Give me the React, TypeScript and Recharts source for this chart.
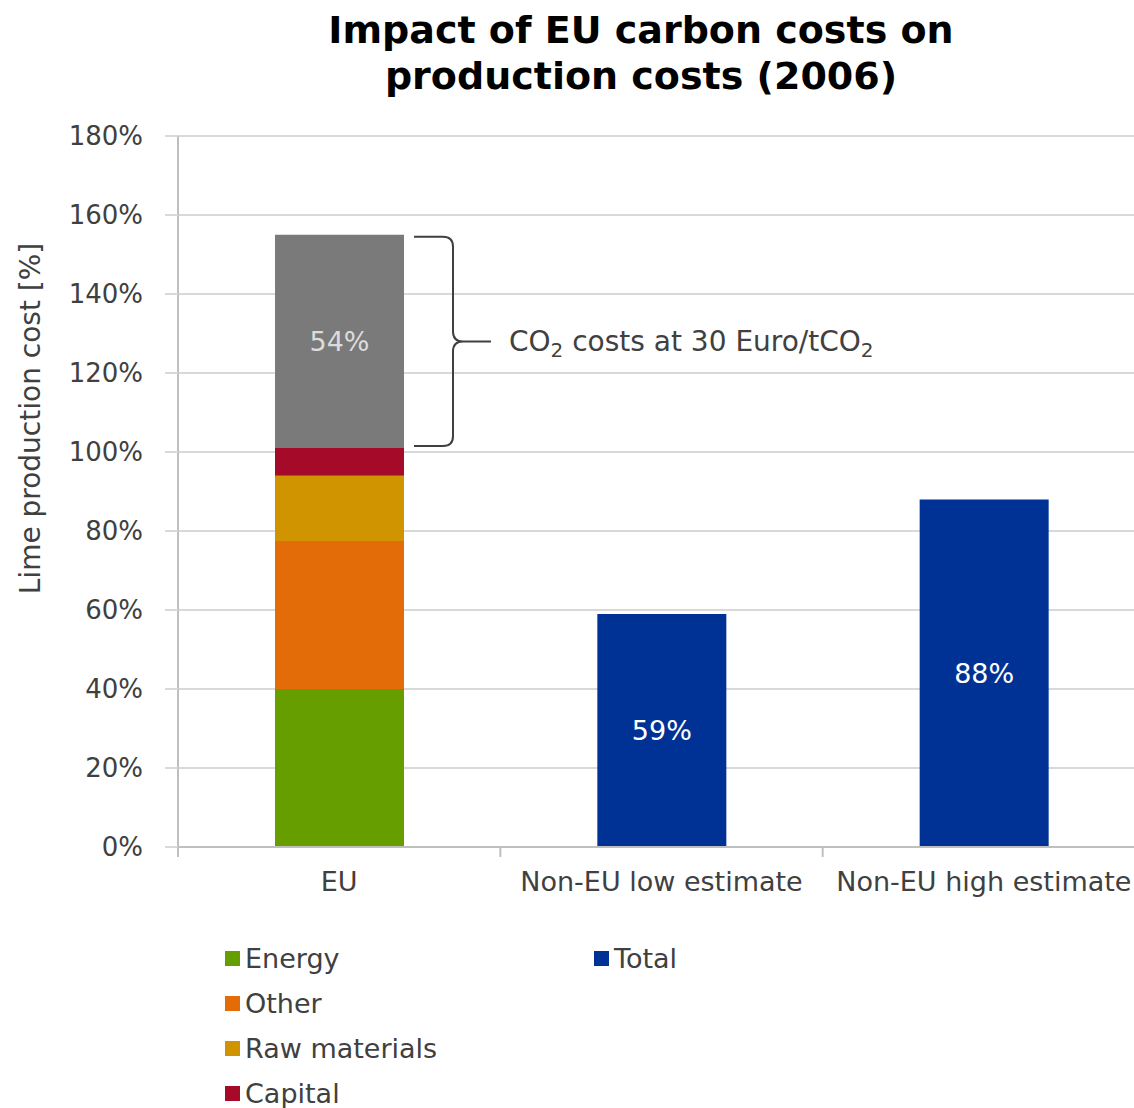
import React from "react";
import {
  BarChart,
  Bar,
  XAxis,
  YAxis,
  CartesianGrid,
  LabelList,
  Rectangle,
} from "recharts";

// values (percent of EU production cost)
const categories = ["EU", "Non-EU low estimate", "Non-EU high estimate"];
const energy = [40, null, null];
const other = [37.5, null, null];
const rawMaterials = [16.5, null, null];
const capital = [7, null, null];
const co2Costs = [54, null, null];
const total = [null, 59, 88];
const yTicks = [0, 20, 40, 60, 80, 100, 120, 140, 160, 180];
const legendColumns = [["Energy", "Other", "Raw materials", "Capital"], ["Total"]];

const colors: Record<string, string> = {
  Energy: "#669E00",
  Other: "#E36C09",
  "Raw materials": "#CF9400",
  Capital: "#A50B28",
  CO2: "#7A7A7A",
  Total: "#003296",
};

const data = categories.map((category, i) => ({
  category,
  energy: energy[i],
  other: other[i],
  raw: rawMaterials[i],
  capital: capital[i],
  co2: co2Costs[i],
  total: total[i],
}));

const FONT = "'DejaVu Sans', Verdana, sans-serif";
const TEXT = "#404040";
const CHART_W = 1200;
const CHART_H = 1108;
const MARGIN = { top: 136, right: 55, left: 0, bottom: 201 };
const Y_AXIS_W = 178;
const BAND = (CHART_W - MARGIN.left - MARGIN.right - Y_AXIS_W) / categories.length;

const pct = (v: any) => (v == null ? "" : `${v}%`);

function CategoryTick(props: any) {
  const { x, y, payload, index } = props;
  const last = index === categories.length - 1;
  return (
    <g>
      <line x1={x - BAND / 2} x2={x - BAND / 2} y1={y - 10} y2={y} stroke="#bfbfbf" strokeWidth={2} />
      {last && (
        <line x1={x + BAND / 2} x2={x + BAND / 2} y1={y - 10} y2={y} stroke="#bfbfbf" strokeWidth={2} />
      )}
      <text x={x} y={y + 34} textAnchor="middle" fill={TEXT} fontSize={27} fontFamily={FONT}>
        {payload.value}
      </text>
    </g>
  );
}

// gray CO2 block plus the brace that annotates it
function Co2Shape(props: any) {
  const { x, y, width, height, fill } = props;
  if (!height || height <= 0) return null;
  const right = x + width;
  const top = y + 2;
  const bottom = y + height - 2;
  const mid = y + height / 2;
  const bx = right + 10;
  const vx = right + 49;
  const tip = right + 87;
  const d =
    `M${bx},${top} L${vx - 10},${top} Q${vx},${top} ${vx},${top + 10} ` +
    `L${vx},${mid - 10} Q${vx},${mid} ${vx + 10},${mid} ` +
    `Q${vx},${mid} ${vx},${mid + 10} L${vx},${bottom - 10} ` +
    `Q${vx},${bottom} ${vx - 10},${bottom} L${bx},${bottom} ` +
    `M${vx + 10},${mid} L${tip},${mid}`;
  return (
    <g>
      <Rectangle x={x} y={y} width={width} height={height} fill={fill} />
      <path d={d} fill="none" stroke="#404040" strokeWidth={2} />
      <text x={right + 105} y={mid + 10} fill={TEXT} fontSize={28} fontFamily={FONT}>
        CO<tspan dy={6} fontSize={20}>2</tspan>
        <tspan dy={-6}> costs at 30 Euro/tCO</tspan>
        <tspan dy={6} fontSize={20}>2</tspan>
      </text>
    </g>
  );
}

function YLabel(props: any) {
  const vb = props.viewBox;
  const cx = vb.x + 30;
  const cy = vb.y + vb.height / 2 - 73;
  return (
    <text
      x={cx}
      y={cy}
      transform={`rotate(-90 ${cx} ${cy})`}
      textAnchor="middle"
      dominantBaseline="central"
      fill={TEXT}
      fontSize={28}
      fontFamily={FONT}
    >
      Lime production cost [%]
    </text>
  );
}

export default function App() {
  return (
    <div
      style={{
        position: "absolute",
        left: 0,
        top: 0,
        width: 1134,
        height: 1108,
        overflow: "hidden",
        background: "#fff",
        fontFamily: FONT,
      }}
    >
      <div
        style={{
          position: "absolute",
          left: 0,
          top: 7,
          width: 1282,
          textAlign: "center",
          fontWeight: "bold",
          fontSize: 38,
          lineHeight: "46px",
          color: "#000",
        }}
      >
        Impact of EU carbon costs on
        <br />
        production costs (2006)
      </div>

      <div style={{ position: "absolute", left: 0, top: 0 }}>
        <BarChart width={CHART_W} height={CHART_H} data={data} margin={MARGIN}>
          <CartesianGrid vertical={false} stroke="#d9d9d9" strokeWidth={2} />
          <XAxis
            dataKey="category"
            height={60}
            axisLine={{ stroke: "#bfbfbf", strokeWidth: 2 }}
            tickLine={false}
            tickSize={10}
            tickMargin={0}
            tick={<CategoryTick />}
            interval={0}
          />
          <YAxis
            width={Y_AXIS_W}
            domain={[0, 180]}
            ticks={yTicks}
            tickFormatter={(v: number) => `${v}%`}
            axisLine={{ stroke: "#bfbfbf", strokeWidth: 2 }}
            tickLine={{ stroke: "#d9d9d9", strokeWidth: 2 }}
            tickSize={13}
            tickMargin={22}
            tick={{ fill: TEXT, fontSize: 26, fontFamily: FONT }}
            label={<YLabel />}
            allowDataOverflow
          />
          <Bar dataKey="energy" name="Energy" stackId="a" barSize={129} fill={colors.Energy} isAnimationActive={false} />
          <Bar dataKey="other" name="Other" stackId="a" barSize={129} fill={colors.Other} isAnimationActive={false} />
          <Bar dataKey="raw" name="Raw materials" stackId="a" barSize={129} fill={colors["Raw materials"]} isAnimationActive={false} />
          <Bar dataKey="capital" name="Capital" stackId="a" barSize={129} fill={colors.Capital} isAnimationActive={false} />
          <Bar
            dataKey="co2"
            name="CO2"
            stackId="a"
            barSize={129}
            fill={colors.CO2}
            shape={<Co2Shape />}
            legendType="none"
            isAnimationActive={false}
          >
            <LabelList dataKey="co2" position="center" formatter={pct} fill="#dcdcdc" fontSize={27} fontFamily={FONT} />
          </Bar>
          <Bar dataKey="total" name="Total" stackId="a" barSize={129} fill={colors.Total} isAnimationActive={false}>
            <LabelList dataKey="total" position="center" formatter={pct} fill="#ffffff" fontSize={27} fontFamily={FONT} />
          </Bar>
        </BarChart>
      </div>

      {legendColumns.map((col, ci) =>
        col.map((name, ri) => (
          <div
            key={name}
            style={{
              position: "absolute",
              left: ci === 0 ? 225 : 594,
              top: 958 - 20 + ri * 45,
              height: 40,
              display: "flex",
              alignItems: "center",
              fontSize: 27,
              color: TEXT,
              whiteSpace: "nowrap",
            }}
          >
            <span style={{ width: 15, height: 15, background: colors[name], marginRight: 5, display: "inline-block" }} />
            {name}
          </div>
        ))
      )}
    </div>
  );
}
